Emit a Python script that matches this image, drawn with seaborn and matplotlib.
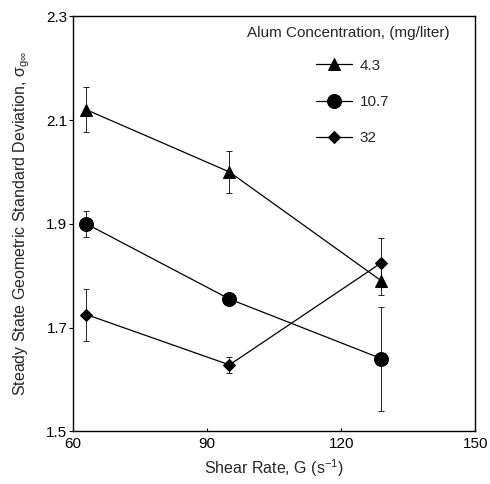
import pandas as pd
import matplotlib
matplotlib.use("Agg")
import matplotlib.pyplot as plt
import seaborn as sns

# data
shear_rate = [63, 95, 129]
conc_labels = ["4.3", "10.7", "32"]
sigma_43 = [2.12, 2.00, 1.79]
err_43 = [0.043, 0.040, 0.028]
sigma_107 = [1.90, 1.755, 1.64]
err_107 = [0.025, 0.005, 0.10]
sigma_32 = [1.725, 1.628, 1.825]
err_32 = [0.050, 0.015, 0.047]

markers = {"4.3": "^", "10.7": "o", "32": "D"}
sizes = {"4.3": 8, "10.7": 10, "32": 6.5}

rows = []
for lab, ys, es in zip(conc_labels, [sigma_43, sigma_107, sigma_32], [err_43, err_107, err_32]):
    for x, y, e in zip(shear_rate, ys, es):
        rows.append({"G": x, "sigma": y, "err": e, "conc": lab})
df = pd.DataFrame(rows)

sns.set_theme(style="ticks")
plt.rcParams["font.family"] = ["Liberation Sans", "DejaVu Sans"]
plt.rcParams["mathtext.fontset"] = "custom"
plt.rcParams["mathtext.rm"] = "Liberation Sans"

fig = plt.figure(figsize=(4.9, 4.84), dpi=100)
ax = fig.add_axes([0.149, 0.109, 0.821, 0.857])

sns.lineplot(data=df, x="G", y="sigma", hue="conc", style="conc",
             markers=markers, dashes=False, palette=["black"] * 3,
             linewidth=0.9, ax=ax, legend=False)
for line, lab in zip(ax.lines, conc_labels):
    line.set_markersize(sizes[lab])
    line.set_markeredgecolor("black")
    line.set_label(lab)

for lab in conc_labels:
    sub = df[df["conc"] == lab]
    ax.errorbar(sub["G"], sub["sigma"], yerr=sub["err"], fmt="none",
                ecolor="black", elinewidth=0.6, capsize=2, capthick=0.6)

ax.set_xlim(60, 150)
ax.set_ylim(1.5, 2.3)
ax.set_xticks([60, 90, 120, 150])
ax.set_yticks([1.5, 1.7, 1.9, 2.1, 2.3])
ax.set_yticklabels(["1.5", "1.7", "1.9", "2.1", "2.3"])
ax.tick_params(axis="both", labelsize=11, colors="black", width=0.8)
ax.tick_params(axis="y", length=3, direction="out", pad=1)
ax.tick_params(axis="x", length=2, direction="in", pad=4)
for s in ax.spines.values():
    s.set_linewidth(1.0)
    s.set_color("black")

ax.set_xlabel("Shear Rate, G (s$^{-1}$)", fontsize=11.5, labelpad=5)
ax.set_ylabel("Steady State Geometric Standard Deviation, σ$_{\\mathrm{g}\\infty}$",
              fontsize=11.5, labelpad=10)

# legend title sits apart from the entries, as in the original
ax.text(0.433, 0.959, "Alum Concentration, (mg/liter)", transform=ax.transAxes,
        ha="left", va="center", fontsize=11)
ax.legend(loc="upper left", bbox_to_anchor=(0.604, 0.898), frameon=False,
          fontsize=11, handlelength=2.35, handletextpad=0.5,
          labelspacing=1.45, borderaxespad=0, borderpad=0)

fig.savefig("out.png", dpi=100)
